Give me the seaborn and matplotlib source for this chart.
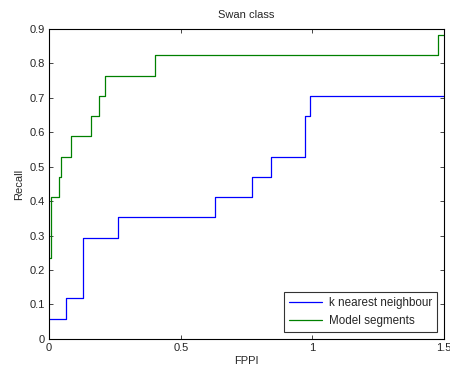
import matplotlib
matplotlib.use("Agg")
import matplotlib.pyplot as plt
import seaborn as sns
import numpy as np

# step curves (recall values are multiples of 1/17)
knn_fppi = [0, 0.065, 0.127, 0.26, 0.629, 0.771, 0.841, 0.972, 0.99, 1.5]
knn_recall = [1, 2, 5, 6, 7, 8, 9, 11, 12, 12]

seg_fppi = [0, 0.009, 0.039, 0.046, 0.085, 0.158, 0.19, 0.214, 0.402, 1.475, 1.5]
seg_recall = [4, 7, 8, 9, 10, 11, 12, 13, 14, 15, 15]

n_positives = 17
x_ticks = [0, 0.5, 1, 1.5]
x_tick_labels = ["0", "0.5", "1", "1.5"]
y_ticks = [0, 0.1, 0.2, 0.3, 0.4, 0.5, 0.6, 0.7, 0.8, 0.9]
y_tick_labels = ["0", "0.1", "0.2", "0.3", "0.4", "0.5", "0.6", "0.7", "0.8", "0.9"]

sns.set_style("white")
plt.rcParams["font.family"] = ["Liberation Sans", "DejaVu Sans"]

fig = plt.figure(figsize=(4.5, 3.72), dpi=100)
ax = fig.add_axes([0.109, 0.089, 0.878, 0.833])

sns.lineplot(x=knn_fppi, y=np.array(knn_recall) / n_positives, ax=ax,
             drawstyle="steps-post", color="#0000ff", linewidth=0.9,
             label="k nearest neighbour")
sns.lineplot(x=seg_fppi, y=np.array(seg_recall) / n_positives, ax=ax,
             drawstyle="steps-post", color="#008000", linewidth=0.9,
             label="Model segments")

ax.set_xlim(0, 1.5)
ax.set_ylim(0, 0.9)
ax.set_xticks(x_ticks)
ax.set_xticklabels(x_tick_labels)
ax.set_yticks(y_ticks)
ax.set_yticklabels(y_tick_labels)
ax.tick_params(direction="in", length=3, width=0.6, labelsize=8,
               top=True, right=True, bottom=True, left=True, pad=3)
for s in ax.spines.values():
    s.set_visible(True)
    s.set_color("black")
    s.set_linewidth(0.8)

ax.set_title("Swan class", fontsize=8, pad=8)
ax.set_xlabel("FPPI", fontsize=8, labelpad=2)
ax.set_ylabel("Recall", fontsize=8, labelpad=4)

leg = ax.legend(loc="lower right", fontsize=8.4, frameon=True, fancybox=False,
                edgecolor="black", borderaxespad=0.6, handlelength=2.8,
                handletextpad=0.6, labelspacing=0.45, borderpad=0.45)
leg.get_frame().set_linewidth(0.8)

fig.savefig("out.png", dpi=100)
